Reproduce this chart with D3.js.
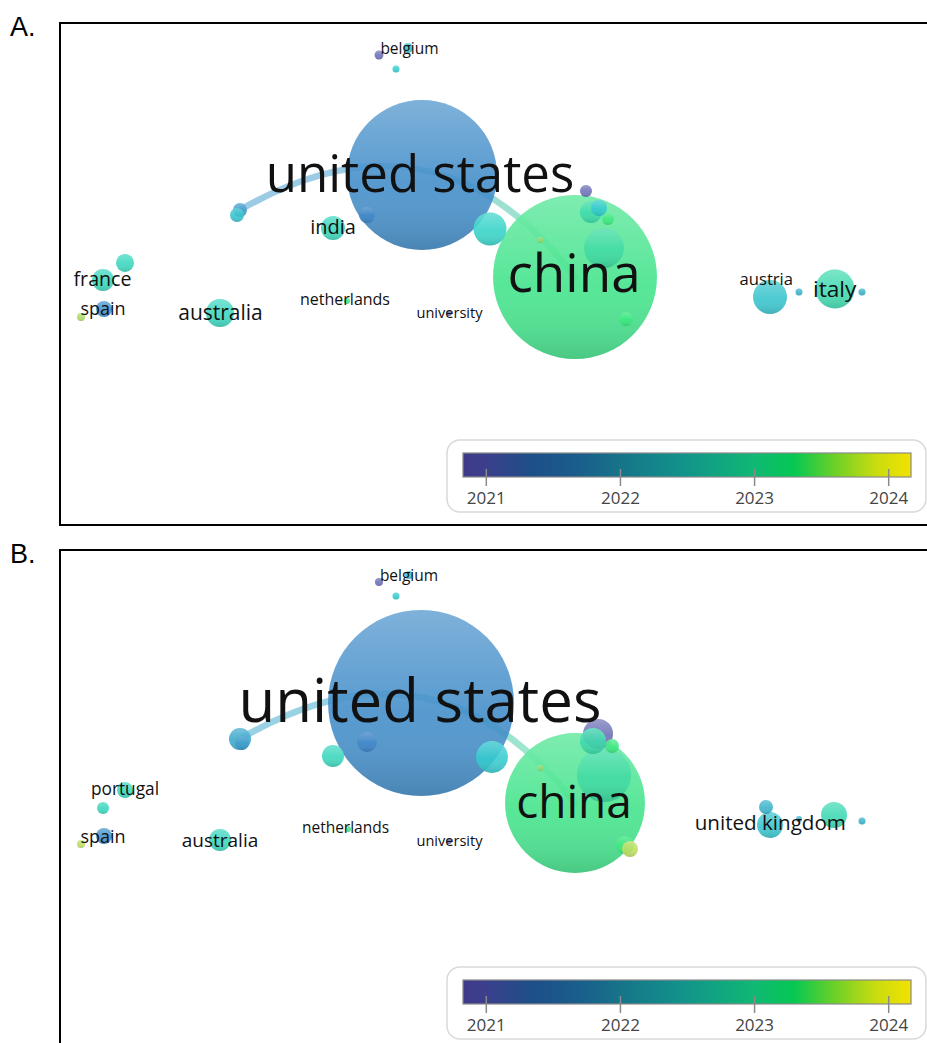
<!DOCTYPE html>
<html><head><meta charset="utf-8">
<script src="https://cdn.jsdelivr.net/npm/d3@7"></script>
<style>
html,body{margin:0;padding:0;background:#fff;}
svg{display:block;font-family:"Open Sans",sans-serif;}
</style></head><body>
<svg id="fig" width="927" height="1043"></svg>
<script>
// Overlay colour scale: average publication year
const legendYears  = [2020.83, 2021.0, 2021.35, 2021.7, 2022.0, 2022.5, 2023.0, 2023.3, 2023.6, 2023.9, 2024.17];
const legendColors = ["#3f3a8a", "#3b3f8c", "#1d4f88", "#1a5e8c", "#167489", "#11958a", "#10b874", "#05c852", "#6cd028", "#c8dc10", "#f2e200"];
const legendTicks  = [2021, 2022, 2023, 2024];

// Panel A: country co-authorship map (map units, occurrences, avg. year)
const nodesA = [
  {id: "us",    x: 3.62, y: 1.52, w: 623,  year: 2021.6},
  {id: "china", x: 5.15, y: 2.54, w: 744,  year: 2023.2},
  {id: "a3",  x: 5.26, y: 1.68, w: 4.0,  year: 2021.0},
  {id: "a4",  x: 5.31, y: 1.89, w: 13.4, year: 2022.8},
  {id: "a5",  x: 5.39, y: 1.85, w: 7.1,  year: 2022.3},
  {id: "a6",  x: 5.48, y: 1.96, w: 4.0,  year: 2023.3},
  {id: "a7",  x: 5.44, y: 2.25, w: 44,   year: 2022.9},
  {id: "a8",  x: 4.80, y: 2.17, w: 1.0,  year: 2023.6},
  {id: "a9",  x: 5.66, y: 2.96, w: 5.4,  year: 2023.3},
  {id: "a10", x: 4.30, y: 2.06, w: 30,   year: 2022.5},
  {id: "india", x: 2.73, y: 2.05, w: 16, year: 2022.6},
  {id: "a12", x: 3.07, y: 1.92, w: 7.1,  year: 2021.5},
  {id: "a13", x: 1.80, y: 1.87, w: 5.4,  year: 2021.8},
  {id: "a14", x: 1.77, y: 1.92, w: 5.4,  year: 2022.2},
  {id: "a15", x: 3.19, y: 0.32, w: 2.2,  year: 2021.0},
  {id: "a16", x: 3.36, y: 0.46, w: 1.36, year: 2022.3},
  {id: "belgium", x: 3.48, y: 0.25, w: 2.8, year: 2022.2},
  {id: "france", x: 0.43, y: 2.57, w: 13.4, year: 2022.6},
  {id: "a19", x: 0.65, y: 2.40, w: 9.0,  year: 2022.6},
  {id: "spain", x: 0.44, y: 2.86, w: 7.1, year: 2021.7},
  {id: "a21", x: 0.21, y: 2.94, w: 1.8,  year: 2023.7},
  {id: "australia", x: 1.60, y: 2.90, w: 21.7, year: 2022.6},
  {id: "netherlands", x: 2.87, y: 2.78, w: 1.0, year: 2023.2},
  {id: "university", x: 3.89, y: 2.90, w: 1.0, year: 2021.0},
  {id: "austria", x: 7.10, y: 2.74, w: 32, year: 2022.2},
  {id: "a26", x: 7.39, y: 2.69, w: 1.36, year: 2022.0},
  {id: "italy", x: 7.75, y: 2.66, w: 42, year: 2022.75},
  {id: "a28", x: 8.02, y: 2.69, w: 1.36, year: 2022.0}
];
const labelsA = [
  {name: "united states", x: 3.60, y: 1.51, w: 625},
  {name: "china",        x: 5.14, y: 2.505, w: 692},
  {name: "india",        x: 2.73, y: 2.04, w: 21},
  {name: "france",       x: 0.425, y: 2.56, w: 19},
  {name: "spain",        x: 0.43, y: 2.86, w: 10.8},
  {name: "australia",    x: 1.605, y: 2.896, w: 27.7},
  {name: "netherlands",  x: 2.85, y: 2.764, w: 3.9},
  {name: "university",   x: 3.895, y: 2.90, w: 1.1},
  {name: "belgium",      x: 3.495, y: 0.256, w: 2.7},
  {name: "austria",      x: 7.063, y: 2.56, w: 5.6},
  {name: "italy",        x: 7.747, y: 2.658, w: 40.7}
];
const linksA = [
  {source: "a13", target: "china", strength: 3.6}
];

// Panel B
const nodesB = [
  {id: "us",    x: 3.61, y: 1.53, w: 957, year: 2021.6},
  {id: "china", x: 5.15, y: 2.53, w: 542, year: 2023.2},
  {id: "b3",  x: 5.38, y: 1.84, w: 25,   year: 2021.0},
  {id: "b4",  x: 5.33, y: 1.91, w: 18.7, year: 2022.8},
  {id: "b5",  x: 5.52, y: 1.96, w: 5.4,  year: 2023.3},
  {id: "b6",  x: 5.44, y: 2.25, w: 81,   year: 2022.9},
  {id: "b7",  x: 4.80, y: 2.18, w: 1.0,  year: 2023.6},
  {id: "b8",  x: 5.65, y: 2.95, w: 9.0,  year: 2023.3},
  {id: "b9",  x: 5.70, y: 2.99, w: 7.1,  year: 2023.8},
  {id: "b10", x: 4.32, y: 2.07, w: 28,   year: 2022.3},
  {id: "b11", x: 2.73, y: 2.06, w: 13.4, year: 2022.6},
  {id: "b12", x: 3.07, y: 1.92, w: 11,   year: 2021.5},
  {id: "b13", x: 1.80, y: 1.89, w: 13.4, year: 2021.9},
  {id: "b14", x: 1.82, y: 1.93, w: 5.4,  year: 2021.8},
  {id: "b15", x: 3.19, y: 0.32, w: 1.8,  year: 2021.0},
  {id: "b16", x: 3.36, y: 0.46, w: 1.36, year: 2022.3},
  {id: "belgium", x: 3.49, y: 0.25, w: 1.8, year: 2022.2},
  {id: "portugal", x: 0.65, y: 2.40, w: 7.1, year: 2022.6},
  {id: "b18", x: 0.43, y: 2.58, w: 4.0,  year: 2022.6},
  {id: "spain", x: 0.44, y: 2.86, w: 7.1, year: 2021.7},
  {id: "b20", x: 0.21, y: 2.94, w: 1.8,  year: 2023.8},
  {id: "australia", x: 1.60, y: 2.90, w: 13.4, year: 2022.6},
  {id: "netherlands", x: 2.88, y: 2.79, w: 1.0, year: 2023.2},
  {id: "university", x: 3.89, y: 2.91, w: 1.0, year: 2021.0},
  {id: "uk",  x: 7.10, y: 2.75, w: 18.7, year: 2022.2},
  {id: "b25", x: 7.06, y: 2.57, w: 5.4,  year: 2022.0},
  {id: "b26", x: 7.39, y: 2.69, w: 1.0,  year: 2022.0},
  {id: "b27", x: 7.74, y: 2.65, w: 18.7, year: 2022.7},
  {id: "b28", x: 8.02, y: 2.71, w: 1.36, year: 2022.0}
];
const labelsB = [
  {name: "belgium",        x: 3.49, y: 0.26, w: 2.7},
  {name: "united states",  x: 3.60, y: 1.507, w: 956},
  {name: "china",          x: 5.14, y: 2.52, w: 471},
  {name: "portugal",       x: 0.65, y: 2.39, w: 8},
  {name: "spain",          x: 0.43, y: 2.87, w: 10.8},
  {name: "australia",      x: 1.60, y: 2.90, w: 15.6},
  {name: "netherlands",    x: 2.855, y: 2.78, w: 2.7},
  {name: "university",     x: 3.895, y: 2.91, w: 1.1},
  {name: "united kingdom", x: 7.103, y: 2.728, w: 25}
];
const linksB = [
  {source: "b13", target: "china", strength: 3.6}
];

const svg = d3.select("#fig");
const defs = svg.append("defs");

const color = d3.scaleLinear().domain(legendYears).range(legendColors).interpolate(d3.interpolateRgb);
const nodeColor = yr => {
  const c = d3.hsl(color(yr));
  c.l = c.l + 0.27 * (1 - c.l);
  c.s = c.s * 0.82;
  return c.formatHex();
};
const xMap = d3.scaleLinear().domain([0, 8.7]).range([0, 870]);
const yMap = d3.scaleLinear().domain([0, 5]).range([0, 500]);
const rScale = d3.scaleSqrt().domain([0, 800]).range([0, 85]);
const fontScale = d3.scaleSqrt().domain([0, 625]).range([13, 51]);
const linkWidth = d3.scaleLinear().domain([0, 5]).range([0, 9]);
const legendX = d3.scaleLinear().domain([2020.83, 2024.17]).range([403, 851]);

// shading laid over each bubble
const shade = defs.append("linearGradient").attr("id", "shade")
  .attr("x1", 0).attr("y1", 0).attr("x2", 0).attr("y2", 1);
shade.append("stop").attr("offset", "0%").attr("stop-color", "#fff").attr("stop-opacity", 0.25);
shade.append("stop").attr("offset", "55%").attr("stop-color", "#fff").attr("stop-opacity", 0.02);
shade.append("stop").attr("offset", "100%").attr("stop-color", "#000").attr("stop-opacity", 0.13);

// colour bar gradient
const bar = defs.append("linearGradient").attr("id", "bar")
  .attr("x1", 0).attr("y1", 0).attr("x2", 1).attr("y2", 0);
legendYears.forEach((yr, i) => {
  bar.append("stop")
    .attr("offset", (legendX(yr) - legendX.range()[0]) / (legendX.range()[1] - legendX.range()[0]))
    .attr("stop-color", legendColors[i]);
});

function drawPanel(tag, top, letter, nodes, labels, links, frameH) {
  svg.append("text").attr("x", 10).attr("y", top + 13)
    .attr("font-family", "Liberation Sans, Arial, sans-serif")
    .attr("font-size", 27).attr("fill", "#000").text(letter);

  const g = svg.append("g").attr("transform", `translate(60,${top})`);
  const byId = new Map(nodes.map(d => [d.id, d]));

  // links
  links.forEach((l, i) => {
    const s = byId.get(l.source), t = byId.get(l.target);
    const x0 = xMap(s.x), y0 = yMap(s.y), x1 = xMap(t.x), y1 = yMap(t.y);
    const dx = x1 - x0, dy = y1 - y0, len = Math.hypot(dx, dy);
    const bend = 0.44 * len;
    const cx = (x0 + x1) / 2 + dy / len * bend, cy = (y0 + y1) / 2 - dx / len * bend;
    const gid = `lk${tag}${i}`;
    const lg = defs.append("linearGradient").attr("id", gid).attr("gradientUnits", "userSpaceOnUse")
      .attr("x1", x0).attr("y1", y0).attr("x2", x1).attr("y2", y1);
    lg.append("stop").attr("offset", "0%").attr("stop-color", nodeColor(s.year));
    lg.append("stop").attr("offset", "45%").attr("stop-color", nodeColor(s.year));
    lg.append("stop").attr("offset", "100%").attr("stop-color", nodeColor(t.year));
    g.append("path")
      .attr("d", `M${x0},${y0}Q${cx},${cy} ${x1},${y1}`)
      .attr("fill", "none")
      .attr("stroke", `url(#${gid})`)
      .attr("stroke-opacity", 0.5)
      .attr("stroke-linecap", "round")
      .attr("stroke-width", linkWidth(l.strength));
  });

  // bubbles, largest underneath
  const sorted = nodes.slice().sort((a, b) => b.w - a.w);
  const bub = g.append("g").selectAll("g").data(sorted).join("g")
    .attr("transform", d => `translate(${xMap(d.x)},${yMap(d.y)})`);
  bub.append("circle").attr("r", d => rScale(d.w))
    .attr("fill", d => nodeColor(d.year)).attr("fill-opacity", 0.88);
  bub.append("circle").attr("r", d => rScale(d.w)).attr("fill", "url(#shade)");

  // labels
  g.append("g").selectAll("text").data(labels).join("text")
    .attr("x", d => xMap(d.x)).attr("y", d => yMap(d.y))
    .attr("dy", "0.35em").attr("text-anchor", "middle")
    .attr("font-size", d => fontScale(d.w))
    .attr("fill", "#111")
    .text(d => d.name);

  // legend
  const lg = g.append("g");
  lg.append("rect").attr("x", 387).attr("y", 417).attr("width", 479).attr("height", 72)
    .attr("rx", 13).attr("fill", "#fff").attr("stroke", "#d9d9d9").attr("stroke-width", 1.5);
  lg.append("rect").attr("x", legendX.range()[0]).attr("y", 430)
    .attr("width", legendX.range()[1] - legendX.range()[0]).attr("height", 24)
    .attr("fill", "url(#bar)").attr("stroke", "#8a8a8a").attr("stroke-width", 1.2);
  const ax = lg.append("g").attr("transform", "translate(0,446)")
    .call(d3.axisBottom(legendX).tickValues(legendTicks).tickSize(17).tickPadding(6).tickFormat(d3.format("d")));
  ax.attr("font-size", 17).attr("font-family", "Open Sans, sans-serif");
  ax.select(".domain").remove();
  ax.selectAll(".tick line").attr("stroke", "#8a8a8a").attr("stroke-width", 1.5);
  ax.selectAll(".tick text").attr("fill", "#444");

  // frame
  svg.append("rect").attr("x", 60).attr("y", top).attr("width", 900).attr("height", frameH)
    .attr("fill", "none").attr("stroke", "#000").attr("stroke-width", 2);
}

drawPanel("A", 23, "A.", nodesA, labelsA, linksA, 502);
drawPanel("B", 550, "B.", nodesB, labelsB, linksB, 520);
</script>
</body></html>
